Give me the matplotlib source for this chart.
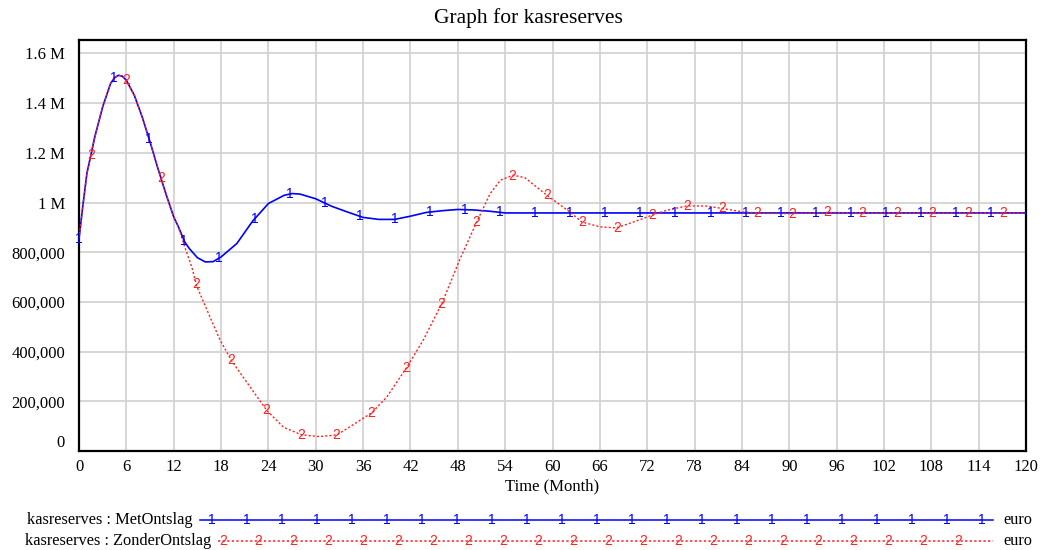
import numpy as np
import matplotlib
matplotlib.use("Agg")
import matplotlib.pyplot as plt
import matplotlib.transforms as mtransforms

plt.rcParams['font.family'] = ['Liberation Serif', 'DejaVu Serif']

# data (time in months, value in euro)
t_met = [0, 0.5, 1, 1.5, 2, 3, 4, 4.5, 5, 5.5, 6, 7, 8, 9, 10, 11, 12, 12.6, 13.4, 14,
         15, 16, 17, 18, 20, 22, 24, 26, 27, 28, 30, 32, 34, 36, 38, 40, 42, 44, 46, 48,
         50, 52, 54, 60, 70, 80, 90, 100, 110, 120]
v_met = [855, 990, 1117, 1190, 1264, 1385, 1479, 1502, 1512, 1508, 1492, 1432, 1345,
         1244, 1137, 1036, 942, 902, 841, 814, 778, 761, 762, 781, 835, 925, 996, 1029,
         1036, 1034, 1015, 985, 962, 940, 932, 932, 945, 960, 967, 972, 970, 965, 958,
         958, 958, 958, 958, 958, 958, 958]

t_zonder = [0, 0.5, 1, 1.5, 2, 3, 4, 4.5, 5, 5.5, 6, 7, 8, 9, 10, 11, 12, 12.6, 13.4,
            14.3, 14.9, 16.6, 17.9, 19.4, 21.3, 23.8, 25.9, 28.2, 30.5, 32.7, 34.8, 37.1,
            39.0, 41.5, 43.6, 46.0, 47.0, 48.3, 50.4, 52.1, 53.4, 55.0, 56.5, 59.3, 62.2,
            63.7, 66.0, 68.1, 70.3, 72.6, 74.5, 77.0, 79.5, 81.5, 84.2, 86.0, 90, 95, 100,
            110, 120]
v_zonder = [855, 990, 1117, 1190, 1264, 1385, 1479, 1502, 1512, 1508, 1492, 1432, 1345,
            1244, 1137, 1036, 942, 902, 821, 740, 665, 539, 445, 360, 275, 163, 96, 65,
            58, 65, 107, 154, 217, 335, 445, 595, 673, 774, 922, 1036, 1090, 1110, 1100,
            1029, 962, 922, 902, 898, 922, 949, 969, 986, 986, 976, 962, 958, 955, 960,
            958, 958, 958]

v_met = np.array(v_met) * 1000.0
v_zonder = np.array(v_zonder) * 1000.0

y_ticks = [0, 200000, 400000, 600000, 800000, 1000000, 1200000, 1400000, 1600000]
y_labels = ['0', '200,000', '400,000', '600,000', '800,000', '1 M', '1.2 M', '1.4 M', '1.6 M']
x_ticks = list(range(0, 121, 6))

blue = '#0000ff'
red = '#ff2020'

fig = plt.figure(figsize=(10.42, 5.5), dpi=100)
ax = fig.add_axes([79 / 1042, 99 / 550, 947 / 1042, 411 / 550])

ax.plot(t_met, v_met, color=blue, lw=1.2, zorder=3)
ax.plot(t_zonder, v_zonder, color=red, lw=1.0, ls=(0, (1.5, 1.5)), zorder=3)

# Vensim style number markers along the lines
step = 120 / 27
for k in range(27):
    tm = k * step
    ax.text(tm, np.interp(tm, t_met, v_met), '1', color=blue, fontsize=10,
            family=['Liberation Sans'], ha='center', va='center', zorder=4)
    tz = 1.5 + k * step
    ax.text(tz, np.interp(tz, t_zonder, v_zonder), '2', color=red, fontsize=10,
            family=['Liberation Sans'], ha='center', va='center', zorder=4)

ax.set_xlim(0, 120)
ax.set_ylim(0, 1654000)
ax.set_xticks(x_ticks)
ax.set_yticks(y_ticks)
ax.set_yticklabels(y_labels)
ax.tick_params(length=0, labelsize=12, pad=10)
ax.tick_params(axis='x', pad=6)
# the bottom label sits a bit above the axis line, like in Vensim
zero_lbl = ax.get_yticklabels()[0]
zero_lbl.set_transform(zero_lbl.get_transform() +
                       mtransforms.ScaledTranslation(0, 10 / 100, fig.dpi_scale_trans))
ax.grid(True, color='#d0d0d0', lw=1.2, zorder=0)
ax.set_axisbelow(True)
for s in ax.spines.values():
    s.set_linewidth(1.6)
    s.set_color('black')
ax.set_xlabel('Time (Month)', fontsize=12, labelpad=2)

fig.text(0.507, 1 - 18 / 550, 'Graph for kasreserves', ha='center', va='center', fontsize=15.5)

# legend strip under the graph, in pixel coordinates
lg = fig.add_axes([0, 0, 1, 1], facecolor='none')
lg.set_xlim(0, 1042)
lg.set_ylim(550, 0)
lg.axis('off')
rows = [('kasreserves : MetOntslag', blue, '1', '-', 200, 212, 520),
        ('kasreserves : ZonderOntslag', red, '2', (0, (1.5, 1.5)), 218, 223, 541)]
for name, col, mk, ls, x0, m0, y in rows:
    lg.text(x0 - 7, y, name, ha='right', va='center', fontsize=11.8)
    lg.plot([x0, 993], [y, y], color=col, lw=1.1, ls=ls)
    for xm in np.arange(m0, 993, 35):
        lg.text(xm, y, mk, color=col, fontsize=10, family=['Liberation Sans'],
                ha='center', va='center')
    lg.text(1003, y, 'euro', ha='left', va='center', fontsize=11.8)

fig.savefig('out.png', dpi=100)
